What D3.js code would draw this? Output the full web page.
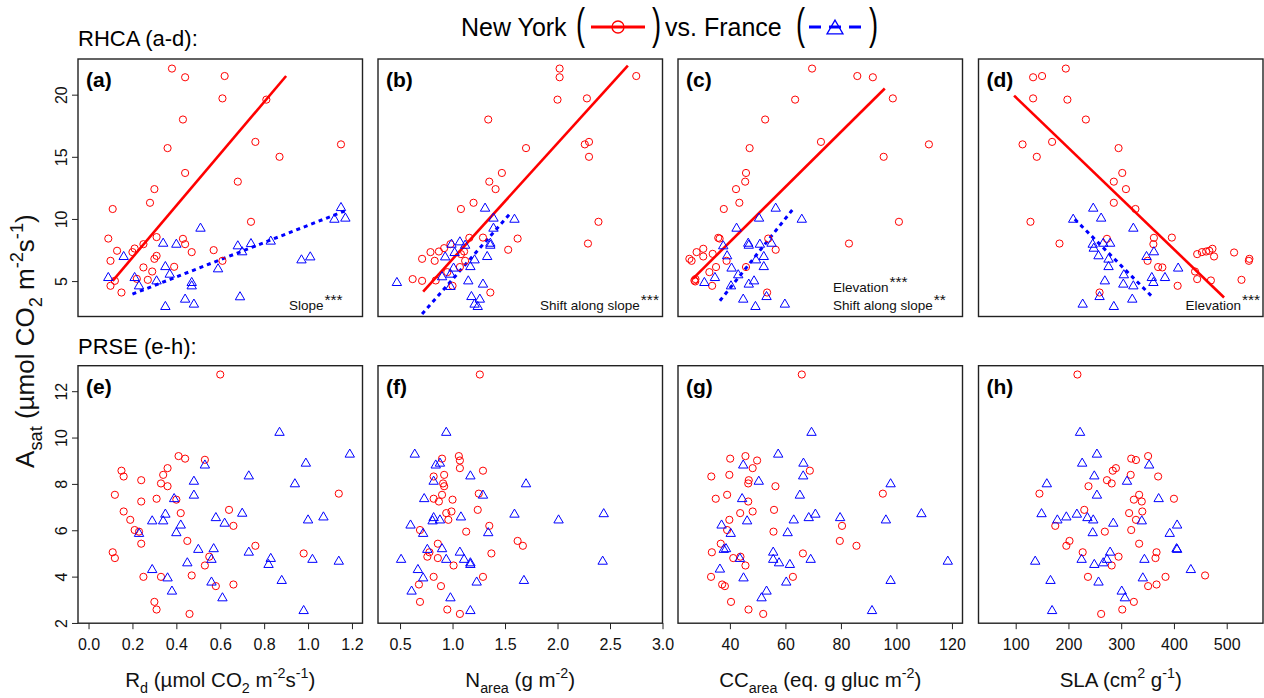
<!DOCTYPE html>
<html>
<head>
<meta charset="utf-8">
<script src="https://d3js.org/d3.v7.min.js"></script>
<style>
  body { margin: 0; background: #fff; }
  svg { display: block; font-family: "Liberation Sans", Arial, Helvetica, sans-serif; }
  text { white-space: pre; }
</style>
</head>
<body>
<div id="chart"></div>
<script>
// ---- data: [x, Asat] ----
// RHCA row
let aNY = [[0.38,22.1],[0.44,21.4],[0.62,21.5],[0.61,19.7],[0.81,19.6],[0.43,18.0],[0.36,15.7],[0.76,16.2],[0.87,15.0],[1.15,16.0],[0.44,13.7],[0.30,12.4],[0.28,11.3],[0.68,13.0],[0.11,10.8],[0.74,9.77],[0.09,8.42],[0.31,8.54],[0.43,8.4],[0.44,7.97],[0.25,7.97],[0.13,7.44],[0.21,7.62],[0.20,7.33],[0.47,7.33],[0.57,7.49],[0.10,6.63],[0.31,7.03],[0.30,6.79],[0.25,6.1],[0.39,6.15],[0.61,6.63],[0.29,5.77],[0.12,5.02],[0.22,5.18],[0.27,5.1],[0.10,4.62],[0.15,4.08]];
let aFR = [[1.15,11.0],[1.12,10.06],[1.17,10.15],[0.51,9.34],[0.34,8.13],[0.40,8.05],[0.68,7.92],[0.74,8.1],[0.83,8.3],[0.70,7.44],[0.16,7.06],[0.35,6.25],[0.37,5.64],[0.59,6.07],[0.97,6.79],[1.01,7.03],[0.09,5.37],[0.21,5.37],[0.31,5.1],[0.23,4.7],[0.47,4.97],[0.47,4.7],[0.69,3.82],[0.44,3.63],[0.48,3.23],[0.35,3.04]];
let bNY = [[2.02,22.1],[2.02,21.4],[2.75,21.5],[2.0,19.6],[2.28,19.7],[1.34,18.0],[1.70,15.7],[2.26,16.0],[2.30,16.2],[2.30,15.0],[1.47,13.7],[1.35,13.0],[1.41,12.4],[1.20,11.3],[1.08,10.8],[2.39,9.77],[1.62,8.42],[2.29,8.02],[1.16,8.48],[1.29,8.5],[1.53,7.52],[0.98,7.97],[0.79,7.33],[0.87,7.38],[0.92,7.65],[0.71,6.79],[0.83,6.63],[1.08,7.17],[1.11,7.38],[1.07,6.13],[1.12,6.63],[0.62,5.16],[0.71,5.02],[0.84,5.05],[0.95,5.72],[1.0,4.62],[1.36,4.08]];
let bFR = [[1.31,10.95],[1.39,10.15],[1.59,10.06],[1.39,9.34],[1.36,8.13],[1.36,7.97],[1.07,8.24],[0.99,8.05],[1.12,7.97],[1.02,7.38],[0.93,7.03],[1.33,7.06],[1.21,6.79],[1.01,6.13],[1.17,6.25],[0.98,5.64],[0.90,5.43],[0.47,4.97],[1.15,5.1],[1.29,4.84],[0.98,4.65],[1.18,3.84],[1.26,3.63],[1.21,3.23],[1.24,3.04]];
let cNY = [[69.6,22.1],[85.9,21.5],[91.5,21.4],[63.5,19.6],[98.7,19.7],[52.7,18.0],[47.1,15.7],[72.8,16.2],[111.7,16.0],[95.4,15.0],[45.8,13.7],[45.5,13.0],[42.2,12.4],[43.4,11.3],[37.8,10.8],[100.9,9.77],[82.9,8.02],[35.8,8.48],[36.3,8.42],[53.8,8.42],[56.5,7.52],[25.4,6.79],[26.2,6.63],[28.0,7.33],[30.4,7.6],[30.4,6.98],[33.8,7.19],[38.8,6.63],[35.0,6.13],[32.6,5.72],[27.2,5.05],[27.6,5.16],[33.6,4.62],[45.8,6.13],[53.4,4.08],[27.5,4.97]];
let cFR = [[56.5,10.95],[65.9,10.06],[50.5,10.15],[42.4,9.34],[46.6,8.13],[46.8,7.97],[50.8,8.05],[55.0,8.13],[37.6,7.92],[39.0,7.12],[49.4,6.79],[52.2,7.06],[52.2,6.25],[40.6,6.13],[43.0,5.59],[30.8,4.97],[34.6,5.37],[48.7,5.1],[46.8,4.84],[40.4,4.7],[44.8,3.63],[53.2,3.84],[49.2,3.04],[59.8,3.23]];
let dNY = [[195,22.1],[133,21.4],[150,21.5],[133,19.7],[198,19.6],[233,18.0],[113,16.0],[169,16.2],[140,15.0],[295,15.7],[302,13.7],[286,13.0],[309,12.4],[286,11.3],[327,10.8],[128,9.77],[183,8.02],[362,8.48],[396,8.5],[273,8.4],[361,7.97],[444,7.17],[453,7.33],[461,7.38],[467,7.44],[473,7.6],[476,6.98],[514,7.3],[543,6.79],[542,6.63],[350,6.63],[370,6.13],[378,6.1],[440,5.77],[444,5.16],[470,5.05],[528,5.1],[407,4.62],[259,4.08]];
let dFR = [[247,10.95],[262,10.15],[209,10.06],[323,9.34],[246,8.05],[266,8.13],[279,8.13],[248,7.73],[257,7.12],[362,7.44],[348,7.06],[276,6.85],[276,6.25],[408,6.13],[383,5.37],[358,5.37],[305,5.59],[269,5.1],[304,4.84],[323,4.7],[361,4.97],[259,3.84],[321,3.63],[227,3.23],[286,3.04]];

// fitted lines (end points)
let fitA = { ny: [[0.11,5.02],[0.90,21.5]], fr: [[0.20,3.95],[1.18,10.73]] };
let fitB = { ny: [[0.72,4.16],[2.67,22.33]], fr: [[0.71,2.35],[1.56,10.55]] };
let fitC = { ny: [[26.6,5.18],[95.8,20.5]], fr: [[36.4,3.42],[63.0,10.87]] };
let fitD = { ny: [[97,19.92],[495,3.68]], fr: [[212,9.98],[358,3.77]] };

// PRSE row
let eNY = [[0.60,12.72],[0.41,9.2],[0.44,9.09],[0.53,9.04],[0.15,8.57],[0.36,8.68],[0.16,8.32],[0.34,8.39],[0.24,8.16],[0.33,8.02],[0.36,7.9],[0.12,7.53],[1.14,7.58],[0.31,7.36],[0.40,7.32],[0.24,7.24],[0.16,6.81],[0.42,6.74],[0.64,6.88],[0.19,6.45],[0.66,6.19],[0.21,6.01],[0.23,5.94],[0.24,5.42],[0.45,5.54],[0.76,5.33],[0.11,5.05],[0.12,4.8],[0.98,5.0],[0.55,4.86],[0.53,4.48],[0.25,3.99],[0.33,3.99],[0.47,4.05],[0.66,3.66],[0.58,3.59],[0.30,2.91],[0.31,2.58],[0.46,2.39]];
let eFR = [[0.87,10.27],[1.19,9.33],[0.99,8.94],[0.53,8.86],[0.73,8.39],[0.48,8.16],[0.94,8.05],[0.48,7.56],[0.39,7.41],[0.70,6.78],[0.35,6.74],[0.29,6.45],[0.34,6.45],[0.58,6.59],[0.62,6.35],[1.07,6.62],[1.0,6.49],[0.42,6.27],[0.40,5.94],[0.23,5.91],[0.50,5.22],[0.57,5.25],[0.73,5.1],[0.83,4.83],[0.82,4.57],[1.02,4.79],[1.14,4.71],[0.56,4.79],[0.45,4.64],[0.29,4.35],[0.36,3.99],[0.56,3.81],[0.88,3.88],[0.38,3.42],[0.61,3.13],[0.98,2.58]];
let fNY = [[1.26,12.72],[1.06,9.2],[1.07,9.01],[1.07,8.68],[0.90,9.09],[1.29,8.57],[0.92,8.39],[0.82,8.32],[0.91,8.02],[0.92,7.9],[1.25,7.58],[0.90,7.53],[0.82,7.36],[1.0,7.32],[0.87,7.24],[1.24,6.88],[0.99,6.81],[0.94,6.74],[0.96,6.45],[1.35,6.19],[0.69,6.01],[1.13,5.94],[1.62,5.54],[1.67,5.33],[0.86,5.42],[0.78,5.05],[1.37,5.0],[0.76,4.86],[0.86,4.8],[1.01,4.48],[0.82,3.99],[1.29,3.99],[0.68,3.66],[0.89,3.59],[0.69,2.91],[0.95,2.58],[1.07,2.39]];
let fFR = [[0.94,10.27],[0.64,9.33],[0.88,8.94],[0.84,8.86],[1.17,8.39],[0.82,8.16],[1.70,8.05],[1.29,7.56],[0.73,7.41],[1.59,6.74],[2.44,6.76],[1.08,6.62],[0.82,6.59],[0.88,6.49],[0.81,6.45],[2.01,6.49],[0.60,6.27],[0.72,5.91],[1.34,5.94],[0.76,5.22],[0.90,5.25],[1.07,5.1],[0.51,4.79],[0.94,4.79],[1.11,4.79],[1.17,4.57],[2.43,4.71],[1.17,4.64],[0.67,4.35],[0.72,3.99],[1.23,3.81],[1.68,3.88],[0.61,3.42],[0.98,3.13],[1.17,2.58]];
let gNY = [[65.9,12.72],[45.6,9.2],[49.8,9.01],[40.1,9.09],[48.2,8.68],[68.8,8.57],[33.3,8.32],[39.8,8.39],[46.8,8.16],[46.6,8.02],[56.4,7.9],[95.1,7.58],[39.0,7.53],[34.9,7.36],[46.6,7.24],[55.9,6.88],[48.2,6.81],[43.7,6.74],[39.8,6.45],[80.4,6.19],[39.0,6.01],[55.7,5.94],[79.6,5.54],[85.6,5.33],[36.7,5.42],[33.5,5.05],[66.3,5.0],[41.2,4.8],[43.8,4.86],[45.6,4.48],[33.2,3.99],[62.7,3.99],[37.2,3.66],[38.2,3.59],[40.4,2.91],[46.7,2.58],[52.0,2.39]];
let gFR = [[69.4,10.27],[57.4,9.33],[66.5,8.94],[44.8,8.86],[66.4,8.39],[50.4,8.16],[97.9,8.05],[65.2,7.56],[44.4,7.41],[70.8,6.74],[109.0,6.76],[68.4,6.59],[63.0,6.49],[79.7,6.59],[96.2,6.49],[46.2,6.45],[37.0,6.27],[40.3,5.91],[60.8,5.94],[37.8,5.22],[38.6,5.25],[55.6,5.1],[43.6,4.83],[55.6,4.79],[36.4,4.37],[57.7,4.64],[61.6,4.57],[69.1,4.79],[118.5,4.71],[44.9,3.99],[60.3,3.81],[97.9,3.88],[53.2,3.42],[51.4,3.13],[91.2,2.58]];
let hNY = [[217,12.72],[319,9.09],[328,9.03],[351,9.2],[290,8.68],[284,8.57],[318,8.39],[370,8.32],[273,8.16],[282,8.02],[238,7.9],[145,7.58],[334,7.53],[400,7.36],[324,7.32],[339,7.24],[230,6.88],[340,6.81],[315,6.74],[328,6.45],[175,6.19],[319,6.01],[269,5.94],[202,5.54],[196,5.33],[334,5.42],[227,5.05],[367,5.05],[295,4.86],[365,4.8],[282,4.48],[237,3.99],[384,3.99],[459,4.05],[351,3.59],[367,3.66],[324,2.91],[302,2.58],[262,2.39]];
let hFR = [[222,10.27],[254,9.33],[226,8.94],[353,8.86],[249,8.39],[159,8.05],[311,8.16],[254,7.56],[371,7.41],[149,6.76],[216,6.74],[196,6.62],[179,6.49],[236,6.59],[247,6.49],[285,6.35],[339,6.45],[406,6.27],[246,5.94],[392,5.91],[405,5.25],[406,5.22],[279,5.1],[225,4.79],[344,4.79],[137,4.71],[273,4.79],[266,4.64],[249,4.57],[432,4.35],[341,3.99],[166,3.88],[257,3.81],[301,3.42],[307,3.13],[169,2.58]];

// axes
let xDomains = [[-0.048, 1.248], [0.29, 3.0], [21.3, 123.8], [29.5, 568.8]];
let xTicks = [[0, 0.2, 0.4, 0.6, 0.8, 1.0, 1.2], [0.5, 1.0, 1.5, 2.0, 2.5, 3.0], [40, 60, 80, 100, 120], [100, 200, 300, 400, 500]];
let xFormats = [".1f", ".1f", "d", "d"];
let yDomains = [[2.15, 22.87], [1.99, 13.1]];
let yTicks = [[5, 10, 15, 20], [2, 4, 6, 8, 10, 12]];

let RED = "#ff0000", BLUE = "#0000ff";
let FONT = 16;

let width = 1264, height = 698;
let colLeft = [78, 378, 678, 978.5];
let panelW = 284.5;
let rowTop = [59, 365.7];
let panelH = 257.5;

let svg = d3.select("#chart").append("svg")
  .attr("width", width)
  .attr("height", height);

// text with sub/superscripts: parts = [[string, "n"|"sub"|"sup"], ...]
function rich(sel, parts, size) {
  let shift = 0;
  parts.forEach(([s, k]) => {
    let target = k === "sub" ? size * 0.3 : k === "sup" ? -size * 0.42 : 0;
    sel.append("tspan")
      .attr("dy", target - shift)
      .attr("font-size", k === "n" ? size : size * 0.7)
      .text(s);
    shift = target;
  });
}

// R style triangle (pch = 2), centred on its box
function triPath(x, y, s) {
  let h = 4.05 * s, w = 4.7 * s;
  return `M${x},${y - h}L${x + w},${y + h}L${x - w},${y + h}Z`;
}

let panels = [
  { id: "a", row: 0, col: 0, ny: aNY, fr: aFR, fit: fitA,
    notes: [{ t: "Slope", s: "***", x: 211, y: 251 }] },
  { id: "b", row: 0, col: 1, ny: bNY, fr: bFR, fit: fitB,
    notes: [{ t: "Shift along slope", s: "***", x: 162, y: 251 }] },
  { id: "c", row: 0, col: 2, ny: cNY, fr: cFR, fit: fitC,
    notes: [{ t: "Elevation", s: "***", x: 155, y: 233 },
            { t: "Shift along slope", s: "**", x: 155, y: 251 }] },
  { id: "d", row: 0, col: 3, ny: dNY, fr: dFR, fit: fitD,
    notes: [{ t: "Elevation", s: "***", x: 207, y: 251 }] },
  { id: "e", row: 1, col: 0, ny: eNY, fr: eFR },
  { id: "f", row: 1, col: 1, ny: fNY, fr: fFR },
  { id: "g", row: 1, col: 2, ny: gNY, fr: gFR },
  { id: "h", row: 1, col: 3, ny: hNY, fr: hFR },
];

panels.forEach((p) => {
  let x = d3.scaleLinear().domain(xDomains[p.col]).range([0, panelW]);
  let y = d3.scaleLinear().domain(yDomains[p.row]).range([panelH, 0]);
  let g = svg.append("g")
    .attr("transform", `translate(${colLeft[p.col]},${rowTop[p.row]})`);

  // fitted lines
  if (p.fit) {
    let line = d3.line().x((d) => x(d[0])).y((d) => y(d[1]));
    g.append("path").attr("d", line(p.fit.ny))
      .attr("fill", "none").attr("stroke", RED).attr("stroke-width", 2.6);
    g.append("path").attr("d", line(p.fit.fr))
      .attr("fill", "none").attr("stroke", BLUE).attr("stroke-width", 3)
      .attr("stroke-dasharray", "4,4");
  }

  // points
  g.selectAll("circle.ny").data(p.ny).enter().append("circle")
    .attr("class", "ny")
    .attr("cx", (d) => x(d[0])).attr("cy", (d) => y(d[1]))
    .attr("r", 3.6)
    .attr("fill", "none").attr("stroke", RED).attr("stroke-width", 1);
  g.selectAll("path.fr").data(p.fr).enter().append("path")
    .attr("class", "fr")
    .attr("d", (d) => triPath(x(d[0]), y(d[1]), 1))
    .attr("fill", "none").attr("stroke", BLUE).attr("stroke-width", 1);

  // box
  g.append("rect").attr("width", panelW).attr("height", panelH)
    .attr("fill", "none").attr("stroke", "#222").attr("stroke-width", 1.4);

  // panel label
  g.append("text").attr("x", 8).attr("y", 28)
    .attr("font-size", 21).attr("font-weight", "bold")
    .text(`(${p.id})`);

  // significance notes, stars set right after the words
  (p.notes || []).forEach((n) => {
    let t = g.append("text").attr("x", n.x).attr("y", n.y)
      .attr("font-size", 13.5).attr("fill", "#111").text(n.t);
    let len = t.node().getComputedTextLength();
    g.append("text").attr("x", n.x + len + 1).attr("y", n.y - 5)
      .attr("font-size", 15.5).attr("fill", "#111").text(n.s);
  });

  // x axis on the bottom row
  if (p.row === 1) {
    let ax = g.append("g").attr("transform", `translate(0,${panelH})`)
      .call(d3.axisBottom(x).tickValues(xTicks[p.col])
        .tickFormat(d3.format(xFormats[p.col])).tickSize(6).tickPadding(9));
    ax.select(".domain").remove();
    ax.selectAll("line").attr("stroke", "#222");
    ax.selectAll("text").attr("font-size", FONT).attr("font-family", null).attr("fill", "#111");
  }

  // y axis on the first column, labels turned like R
  if (p.col === 0) {
    let ay = g.append("g")
      .call(d3.axisLeft(y).tickValues(yTicks[p.row]).tickFormat(d3.format("d")).tickSize(6));
    ay.select(".domain").remove();
    ay.selectAll("line").attr("stroke", "#222");
    ay.selectAll("text")
      .attr("font-size", FONT).attr("font-family", null).attr("fill", "#111")
      .attr("transform", "rotate(-90)")
      .attr("x", 0).attr("y", -11).attr("dy", 0)
      .attr("text-anchor", "middle");
  }
});

// row titles
svg.append("text").attr("x", 78).attr("y", 46).attr("font-size", 22).text("RHCA (a-d):");
svg.append("text").attr("x", 78).attr("y", 354).attr("font-size", 22).text("PRSE (e-h):");

// x titles
let xTitles = [
  [["R", "n"], ["d", "sub"], [" (µmol CO", "n"], ["2", "sub"], [" m", "n"], ["-2", "sup"], ["s", "n"], ["-1", "sup"], [")", "n"]],
  [["N", "n"], ["area", "sub"], [" (g m", "n"], ["-2", "sup"], [")", "n"]],
  [["CC", "n"], ["area", "sub"], [" (eq. g gluc m", "n"], ["-2", "sup"], [")", "n"]],
  [["SLA (cm", "n"], ["2", "sup"], [" g", "n"], ["-1", "sup"], [")", "n"]],
];
xTitles.forEach((parts, i) => {
  let t = svg.append("text")
    .attr("x", colLeft[i] + panelW / 2).attr("y", 687)
    .attr("text-anchor", "middle").attr("fill", "#111");
  rich(t, parts, 20.5);
});

// y title
let yt = svg.append("text")
  .attr("transform", `translate(34,${(rowTop[0] + rowTop[1] + panelH) / 2}) rotate(-90)`)
  .attr("text-anchor", "middle").attr("fill", "#111");
rich(yt, [["A", "n"], ["sat", "sub"], [" (µmol CO", "n"], ["2", "sub"], [" m", "n"], ["-2", "sup"], ["s", "n"], ["-1", "sup"], [")", "n"]], 26);

// legend
let lg = svg.append("g");
function paren(x, ch) {
  lg.append("text").attr("transform", `translate(${x},39) scale(0.62,1)`)
    .attr("font-size", 44).text(ch);
}
lg.append("text").attr("x", 461).attr("y", 36).attr("font-size", 25).text("New York");
paren(576, "(");
lg.append("line").attr("x1", 591).attr("x2", 645).attr("y1", 27).attr("y2", 27)
  .attr("stroke", RED).attr("stroke-width", 3);
lg.append("circle").attr("cx", 618).attr("cy", 27).attr("r", 6)
  .attr("fill", "none").attr("stroke", RED).attr("stroke-width", 1.3);
paren(652, ")");
lg.append("text").attr("x", 665).attr("y", 36).attr("font-size", 25).text("vs. France");
paren(796, "(");
lg.append("line").attr("x1", 809).attr("x2", 861).attr("y1", 27).attr("y2", 27)
  .attr("stroke", BLUE).attr("stroke-width", 3).attr("stroke-dasharray", "12,8");
lg.append("path").attr("d", triPath(835, 27, 1.7))
  .attr("fill", "none").attr("stroke", BLUE).attr("stroke-width", 1.3);
paren(869, ")");
</script>
</body>
</html>
